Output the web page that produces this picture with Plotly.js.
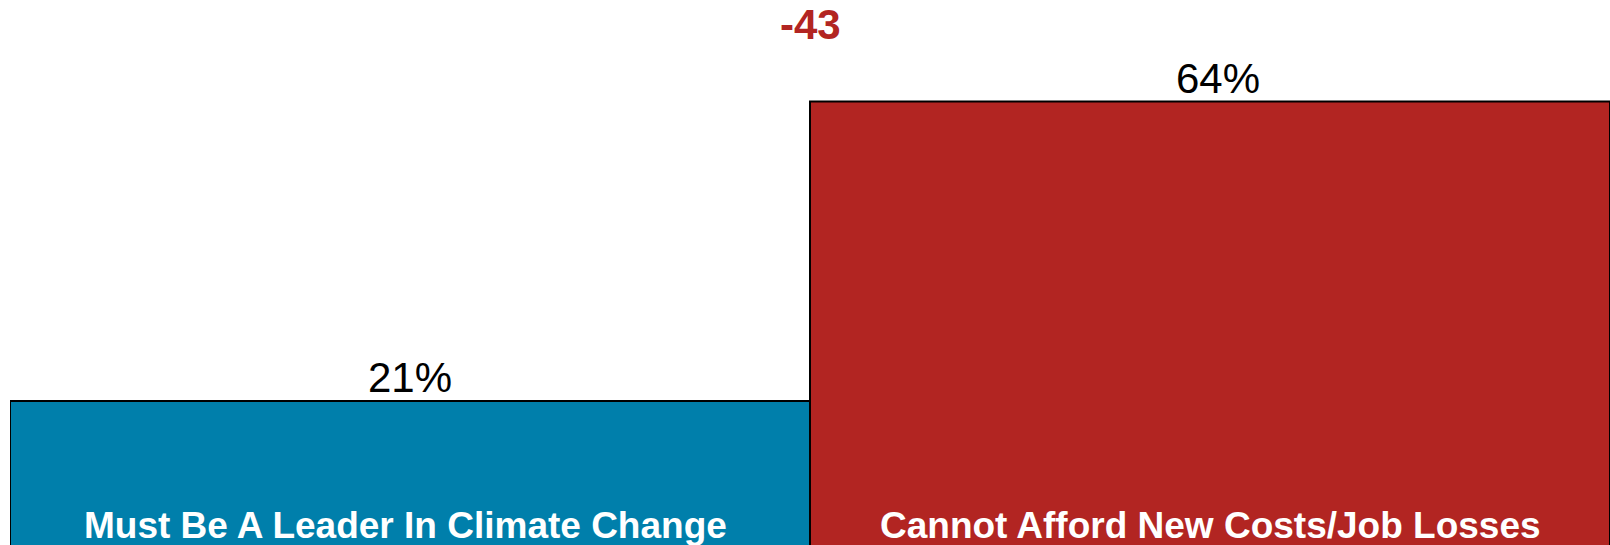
<!DOCTYPE html>
<html>
<head>
<meta charset="utf-8">
<script src="https://cdn.plot.ly/plotly-3.0.1.min.js"></script>
<style>
  html, body { margin: 0; padding: 0; background: #ffffff; }
  #chart { width: 1610px; height: 545px; }
</style>
</head>
<body>
<div id="chart"></div>
<script>
// Data
const categories = ["Must Be A Leader In Climate Change", "Cannot Afford New Costs/Job Losses"];
const values = [21, 64];
const valueLabels = ["21%", "64%"];
const barColors = ["#007FAB", "#B22522"];
const difference = values[0] - values[1]; // -43

const FONT = "Liberation Sans, Arial, Helvetica, sans-serif";
const valueLabelShift = [0, 8];
const categoryLabelShift = [-5, 0];

const trace = {
  type: "bar",
  x: categories.map((c, i) => i),
  y: values,
  marker: { color: barColors, line: { color: "#000000", width: 2 } },
  hoverinfo: "skip",
  showlegend: false
};

const annotations = [];
// value labels above bars
values.forEach((v, i) => {
  annotations.push({
    x: i, y: v, xref: "x", yref: "y",
    text: valueLabels[i], showarrow: false,
    xanchor: "center", yanchor: "bottom",
    xshift: valueLabelShift[i], yshift: -2,
    font: { family: FONT, size: 42, color: "#000000" }
  });
});
// category labels inside bars at the bottom
categories.forEach((c, i) => {
  annotations.push({
    x: i, y: 0, xref: "x", yref: "paper",
    text: "<b>" + c + "</b>", showarrow: false,
    xanchor: "center", yanchor: "bottom",
    xshift: categoryLabelShift[i], yshift: -3,
    font: { family: FONT, size: 37, color: "#FFFFFF" }
  });
});
// difference label
annotations.push({
  x: 0.5, y: 1, xref: "x", yref: "paper",
  text: "<b>" + difference + "</b>", showarrow: false,
  xanchor: "center", yanchor: "top",
  yshift: 1,
  font: { family: FONT, size: 42, color: "#B22522" }
});

const layout = {
  width: 1610, height: 545,
  margin: { l: 10, r: 0, t: 0, b: 0, pad: 0 },
  paper_bgcolor: "#FFFFFF",
  plot_bgcolor: "#FFFFFF",
  bargap: 0,
  xaxis: {
    type: "linear",
    range: [-0.5, 1.5],
    showgrid: false, zeroline: false, showticklabels: false, showline: false, ticks: ""
  },
  yaxis: {
    range: [0.33, 78.58],
    showgrid: false, zeroline: false, showticklabels: false, showline: false, ticks: ""
  },
  annotations: annotations
};

Plotly.newPlot("chart", [trace], layout, { displayModeBar: false, staticPlot: true });
</script>
</body>
</html>
